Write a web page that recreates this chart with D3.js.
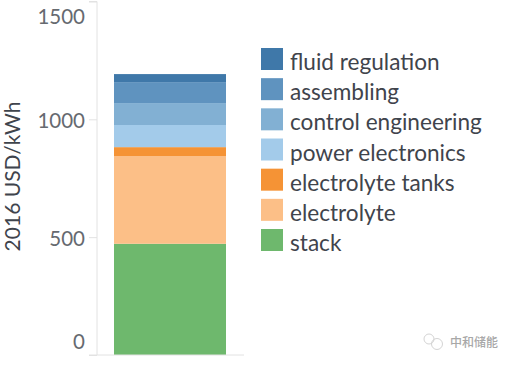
<!DOCTYPE html>
<html>
<head>
<meta charset="utf-8">
<script src="https://cdn.jsdelivr.net/npm/d3@7"></script>
<style>
  html, body { margin: 0; padding: 0; background: #fff; }
  text { font-family: Lato, sans-serif; }
</style>
</head>
<body>
<div id="chart"></div>
<script>
'use strict';

// ─── Data ─────────────────────────────────────────────────────────────────────
const categories = ['fluid regulation', 'assembling', 'control engineering', 'power electronics', 'electrolyte tanks', 'electrolyte', 'stack'];
const values = [34, 89, 93, 94, 38, 372, 472];
const colors = ['#3f78a9', '#5f93bf', '#82b0d3', '#a3cbea', '#f59335', '#fcbf87', '#6eb86d'];
const yTicks = [0, 500, 1000, 1500];
const yTitle = '2016 USD/kWh';
const watermark = '中和储能';

const W = 513, H = 365;
const svg = d3.select('#chart').append('svg').attr('width', W).attr('height', H).style('display', 'block');

const y = d3.scaleLinear().domain([0, 1500]).range([355, 1.5]);
const x = d3.scaleBand().domain(['total']).range([114, 226]);

// ─── Stack (bottom to top) ────────────────────────────────────────────────────
const stackOrder = categories.map((name, i) => ({ name, value: values[i], color: colors[i] })).reverse();
let running = 0;
stackOrder.forEach(d => {
  svg.append('rect')
    .attr('x', x('total'))
    .attr('width', x.bandwidth())
    .attr('y', y(running + d.value))
    .attr('height', y(running) - y(running + d.value))
    .attr('fill', d.color);
  running += d.value;
});

// ─── Axes ─────────────────────────────────────────────────────────────────────
// end labels sit inside the axis range, so they get pushed in by hand
const labelShift = { 0: -14, 500: 1, 1000: 1, 1500: 15 };

const yAxis = svg.append('g')
  .attr('transform', 'translate(97,0)')
  .call(d3.axisLeft(y).tickValues(yTicks).tickSize(8).tickPadding(4).tickFormat(d3.format('d')));
yAxis.selectAll('line').attr('stroke', '#e2e2e2');
yAxis.select('.domain').attr('stroke', '#e2e2e2').attr('d', 'M-8,1.5H0V355');
yAxis.selectAll('text')
  .attr('font-size', 20.5)
  .attr('fill', '#666a70')
  .attr('font-family', 'Lato, sans-serif')
  .attr('dy', null)
  .attr('y', d => labelShift[d] + 7);

svg.append('line').attr('x1', 89).attr('x2', 244).attr('y1', y(0)).attr('y2', y(0)).attr('stroke', '#e2e2e2');

svg.append('text')
  .attr('transform', 'translate(20,176.5) rotate(-90)')
  .attr('text-anchor', 'middle')
  .attr('font-size', 21)
  .attr('fill', '#3f444c')
  .text(yTitle);

// ─── Legend ───────────────────────────────────────────────────────────────────
const legend = d3.scalePoint().domain(categories).range([59, 240]);
categories.forEach((name, i) => {
  svg.append('rect')
    .attr('x', 261).attr('y', legend(name) - 11)
    .attr('width', 22).attr('height', 22)
    .attr('fill', colors[i]);
  svg.append('text')
    .attr('x', 290).attr('y', legend(name) + 11)
    .attr('font-size', 22.6)
    .attr('fill', '#3f444c')
    .text(name);
});

// ─── Watermark ────────────────────────────────────────────────────────────────
const wm = svg.append('g').attr('fill', 'none').attr('stroke', '#d4d4d4').attr('stroke-width', 1);
wm.append('circle').attr('cx', 429).attr('cy', 339).attr('r', 5);
wm.append('circle').attr('cx', 437).attr('cy', 344).attr('r', 5.5);
svg.append('text')
  .attr('x', 450).attr('y', 347)
  .style('font-family', '"Noto Sans CJK SC"')
  .attr('font-size', 12)
  .attr('font-weight', 500)
  .attr('fill', '#a8a8a8')
  .text(watermark);
</script>
</body>
</html>
